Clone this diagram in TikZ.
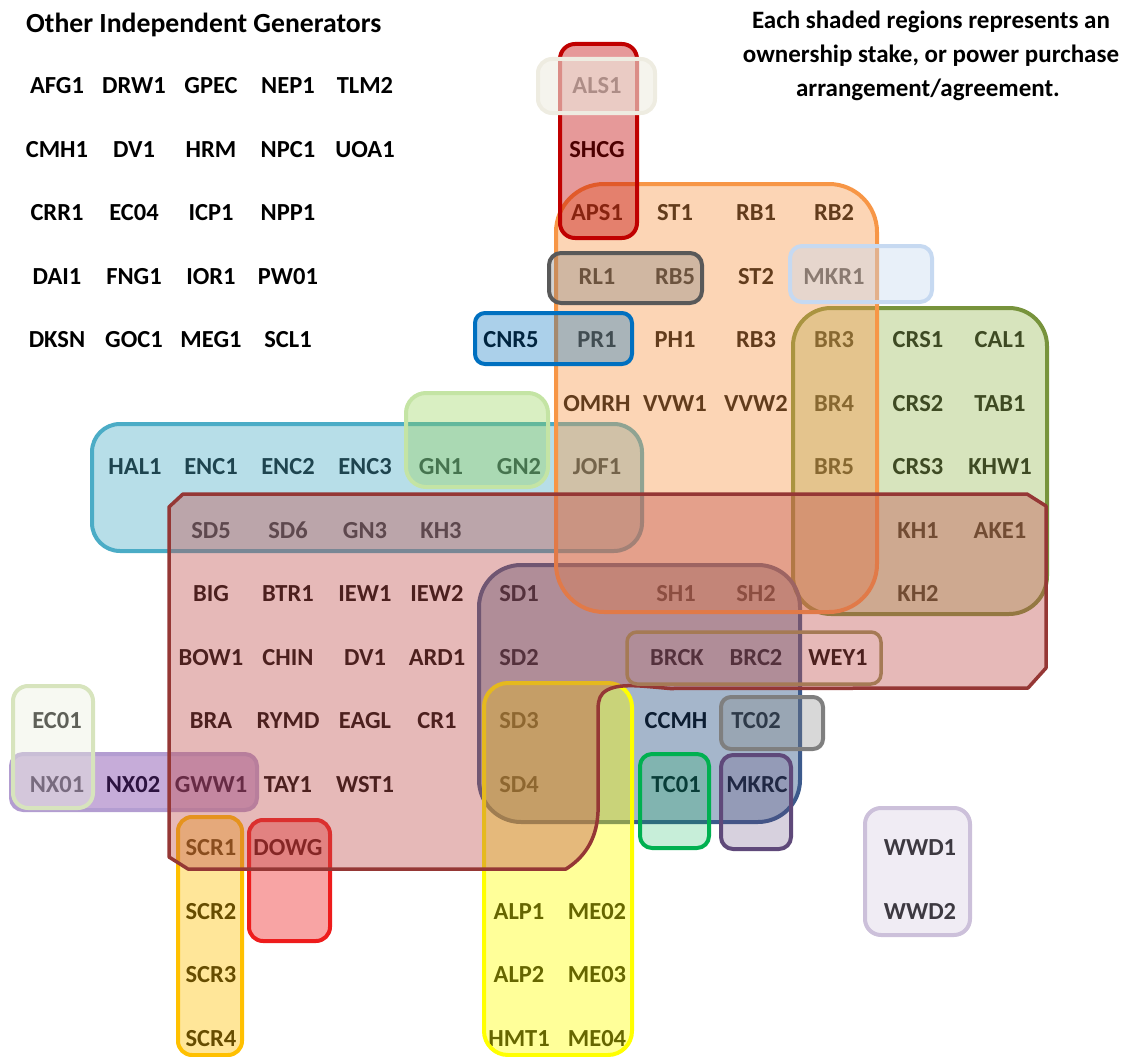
\documentclass[tikz,border=0pt]{standalone}
\usepackage{fontspec}
\setmainfont{Carlito}
\definecolor{cGreenS}{HTML}{77933C}
\definecolor{cGreenF}{HTML}{9BBB59}
\definecolor{cAqua}{HTML}{4BACC6}
\definecolor{cGNS}{HTML}{C4E4A4}
\definecolor{cGNF}{HTML}{92D050}
\definecolor{cSDS}{HTML}{3C5A8C}
\definecolor{cSDF}{HTML}{1F497D}
\definecolor{cYel}{HTML}{FFFF00}
\definecolor{cOrange}{HTML}{F79646}
\definecolor{cNXS}{HTML}{B39DD1}
\definecolor{cNXF}{HTML}{7030A0}
\definecolor{cSCR}{HTML}{FFC000}
\definecolor{cDOWG}{HTML}{EE1C1C}
\definecolor{cPolyS}{HTML}{953735}
\definecolor{cPolyF}{HTML}{C0504D}
\definecolor{cECS}{HTML}{D7E4BD}
\definecolor{cECF}{HTML}{EBF1DE}
\definecolor{cBRCK}{HTML}{A57A55}
\definecolor{cGray}{HTML}{7F7F7F}
\definecolor{cDGray}{HTML}{595959}
\definecolor{cTC}{HTML}{00B050}
\definecolor{cMKRC}{HTML}{5F497A}
\definecolor{cBlue}{HTML}{0070C0}
\definecolor{cMKR}{HTML}{C6D9F1}
\definecolor{cRed}{HTML}{C00000}
\definecolor{cALS}{HTML}{EEECE1}
\definecolor{cWWD}{HTML}{CCC0DA}
\tikzset{
  lbl/.style={font=\fontsize{24.5}{28}\selectfont\bfseries, inner sep=0pt, text height=15.8pt, text depth=0pt, anchor=center},
  ttl/.style={font=\fontsize{27.7}{32}\selectfont\bfseries, inner sep=0pt},
  note/.style={font=\fontsize{25}{30}\selectfont\bfseries, inner sep=0pt, anchor=base},
  reg/.style={line width=4pt, line join=round},
}
\begin{document}
\begin{tikzpicture}[x=1pt,y=-1pt]
\useasboundingbox (0,0) rectangle (1128,1057);
% titles
\node[ttl, anchor=base west] (title) at (26,33) {Other Independent Generators};
\node[note] (note1) at (931,29) {Each shaded regions represents an};
\node[note] (note2) at (931,63) {ownership stake, or power purchase};
\node[note] (note3) at (928,96) {arrangement/agreement.};
% left list
\foreach \t/\x/\y [count=\i] in {AFG1/57/86, DRW1/134/86, GPEC/211/86, NEP1/288/86, TLM2/365/86,
  CMH1/57/149.5, DV1/134/149.5, HRM/211/149.5, NPC1/288/149.5, UOA1/365/149.5,
  CRR1/57/213, EC04/134/213, ICP1/211/213, NPP1/288/213,
  DAI1/57/276.5, FNG1/134/276.5, IOR1/211/276.5, PW01/288/276.5,
  DKSN/57/340, GOC1/134/340, MEG1/211/340, SCL1/288/340}
  \node[lbl] (o\i) at (\x,\y) {\t};
% main labels
\foreach \t/\x/\y [count=\i] in {ALS1/597/86, SHCG/597/149.5,
  APS1/597/213, ST1/675/213, RB1/756/213, RB2/834/213,
  RL1/597/276.5, RB5/675/276.5, ST2/756/276.5, MKR1/834/276.5,
  CNR5/511/340, PR1/597/340, PH1/675/340, RB3/756/340, BR3/834/340, CRS1/918/340, CAL1/1000/340,
  OMRH/597/403.5, VVW1/675/403.5, VVW2/756/403.5, BR4/834/403.5, CRS2/918/403.5, TAB1/1000/403.5,
  HAL1/135/467, ENC1/211/467, ENC2/288/467, ENC3/365/467, GN1/441/467, GN2/519/467, JOF1/597/467, BR5/834/467, CRS3/918/467, KHW1/1000/467,
  SD5/211/530.5, SD6/288/530.5, GN3/365/530.5, KH3/441/530.5, KH1/918/530.5, AKE1/1000/530.5,
  BIG/211/594, BTR1/288/594, IEW1/365/594, IEW2/437/594, SD1/519/594, SH1/676/594, SH2/756/594, KH2/918/594,
  BOW1/211/657.5, CHIN/288/657.5, DV1/365/657.5, ARD1/437/657.5, SD2/519/657.5, BRCK/677/657.5, BRC2/756/657.5, WEY1/838/657.5,
  EC01/57/721, BRA/211/721, RYMD/288/721, EAGL/365/721, CR1/437/721, SD3/519/721, CCMH/676/721, TC02/756/721,
  NX01/57/784.5, NX02/133/784.5, GWW1/211/784.5, TAY1/288/784.5, WST1/365/784.5, SD4/519/784.5, TC01/676/784.5, MKRC/757/784.5,
  SCR1/211/848, DOWG/288/848, WWD1/920/848,
  SCR2/211/911.5, ALP1/519/911.5, ME02/597/911.5, WWD2/920/911.5,
  SCR3/211/975, ALP2/519/975, ME03/597/975,
  SCR4/211/1038.5, HMT1/519/1038.5, ME04/597/1038.5}
  \node[lbl] (m\i) at (\x,\y) {\t};
% regions (drawn over text, semi-transparent)
\draw[reg, draw=cGreenS, fill=cGreenF, fill opacity=.4, rounded corners=38pt] (793,308) rectangle (1047,614);
\draw[reg, draw=cAqua, fill=cAqua, fill opacity=.4, rounded corners=28pt] (92,424) rectangle (642,551);
\draw[reg, draw=cGNS, fill=cGNF, fill opacity=.35, rounded corners=20pt] (406,393) rectangle (548,487);
\draw[reg, draw=cSDS, fill=cSDF, fill opacity=.4, rounded corners=42pt] (479,565) rectangle (800,822);
\draw[reg, draw=cYel, fill=cYel, fill opacity=.4, rounded corners=24pt] (484,683) rectangle (632,1055);
\draw[reg, draw=cOrange, fill=cOrange, fill opacity=.4, rounded corners=48pt] (556,184) rectangle (877,612);
\draw[reg, draw=cNXS, fill=cNXF, fill opacity=.4, rounded corners=12pt] (11,754) rectangle (257,810);
\draw[reg, draw=cSCR, fill=cSCR, fill opacity=.4, rounded corners=14pt] (178,817) rectangle (242,1055);
\draw[reg, draw=cDOWG, fill=cDOWG, fill opacity=.4, rounded corners=14pt] (249,820) rectangle (330,941);
% big polygon
\draw[line width=3.5pt, line join=round, draw=cPolyS, fill=cPolyF, fill opacity=.4]
  (169,507) -- (183,494) -- (1027,494) -- (1046,506) -- (1046,668) -- (1028,688) -- (670,688.5)
  .. controls (640,686) and (615,682) .. (603,693)
  .. controls (598,698) and (598,705) .. (598,715) -- (598,812)
  .. controls (597,835) and (588,855) .. (566,869) -- (188,869) -- (169,857) -- cycle;
% small boxes on top
\draw[reg, draw=cECS, fill=cECF, fill opacity=.4, rounded corners=15pt] (13,686) rectangle (93,808);
\draw[line width=3.5pt, draw=cBRCK, rounded corners=10pt] (627,632) rectangle (881,684);
\draw[reg, draw=cGray, fill=cGray, fill opacity=.3, rounded corners=10pt] (721,697) rectangle (823,749);
\draw[reg, draw=cTC, fill=cTC, fill opacity=.22, rounded corners=12pt] (640,754) rectangle (709,848);
\draw[reg, draw=cMKRC, fill=cMKRC, fill opacity=.25, rounded corners=12pt] (721,755) rectangle (791,849);
\draw[reg, draw=cBlue, fill=cBlue, fill opacity=.33, rounded corners=10pt] (475,313) rectangle (632,364);
\draw[reg, draw=cDGray, fill=cGray, fill opacity=.35, rounded corners=12pt] (549,253) rectangle (702,303);
\draw[reg, draw=cMKR, fill=cMKR, fill opacity=.4, rounded corners=12pt] (790,246) rectangle (932,302);
\draw[reg, draw=cRed, fill=cRed, fill opacity=.4, rounded corners=15pt] (560,44) rectangle (637,238);
\draw[reg, draw=cALS, fill=cALS, fill opacity=.6, rounded corners=14pt] (538,59) rectangle (655,113);
\draw[reg, draw=cWWD, fill=cWWD, fill opacity=.3, rounded corners=16pt] (865,808) rectangle (970,935);
\end{tikzpicture}
\end{document}
